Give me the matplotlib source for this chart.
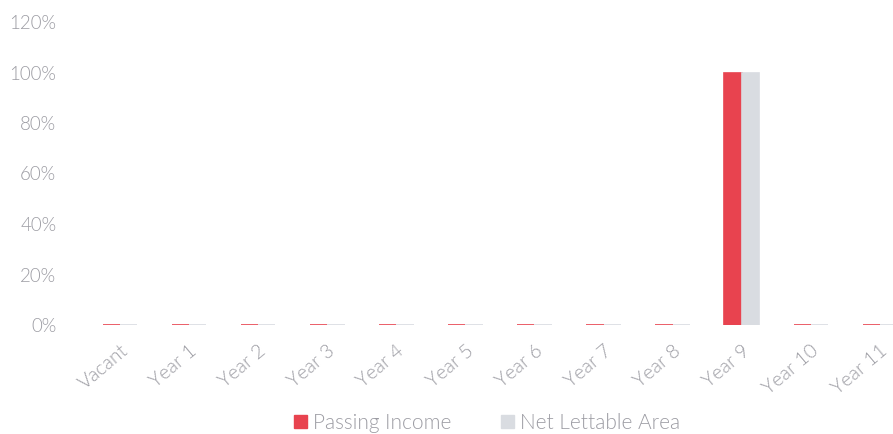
import matplotlib
matplotlib.use("Agg")
import matplotlib.pyplot as plt
import numpy as np

categories = ["Vacant", "Year 1", "Year 2", "Year 3", "Year 4", "Year 5",
              "Year 6", "Year 7", "Year 8", "Year 9", "Year 10", "Year 11"]
passing_income = [0, 0, 0, 0, 0, 0, 0, 0, 0, 100, 0, 0]
net_lettable_area = [0, 0, 0, 0, 0, 0, 0, 0, 0, 100, 0, 0]
y_ticks = [0, 20, 40, 60, 80, 100, 120]

red = "#E8434F"
grey = "#D9DCE1"
text_col = "#9C9CA3"

plt.rcParams["font.family"] = ["Lato", "DejaVu Sans"]

fig = plt.figure(figsize=(8.93, 4.34), dpi=100)
ax = fig.add_axes([85.5 / 893, 1 - 325 / 434, (893 - 85.5) / 893, (325 - 22) / 434])

x = np.arange(len(categories))
w = 0.25
ax.bar(x - w / 2, passing_income, width=w, color=red, edgecolor=red, linewidth=1.2)
ax.bar(x + w / 2, net_lettable_area, width=w, color=grey, edgecolor=grey, linewidth=1.2)

ax.set_xlim(-0.5, 11.19)
ax.set_ylim(0, 120)
ax.set_yticks(y_ticks)
ax.set_yticklabels([f"{v}%" for v in y_ticks], fontsize=13.5, color=text_col,
                   fontweight=300)
ax.set_xticks(x)
ax.set_xticklabels(categories, rotation=40, ha="right", rotation_mode="anchor",
                   fontsize=14, color=text_col, fontweight=300)
ax.tick_params(axis="both", length=0)
ax.tick_params(axis="y", pad=21)
ax.tick_params(axis="x", pad=12)
for s in ax.spines.values():
    s.set_visible(False)

handles = [plt.Rectangle((0, 0), 1, 1, color=red), plt.Rectangle((0, 0), 1, 1, color=grey)]
fig.legend(handles, ["Passing Income", "Net Lettable Area"], loc="center",
           bbox_to_anchor=(487 / 893, 1 - 423 / 434), ncol=2, frameon=False,
           prop={"size": 15, "weight": 300}, labelcolor=text_col,
           handlelength=0.6, handleheight=0.6, handletextpad=0.3, columnspacing=2.4)

fig.savefig("out.png", dpi=100)
